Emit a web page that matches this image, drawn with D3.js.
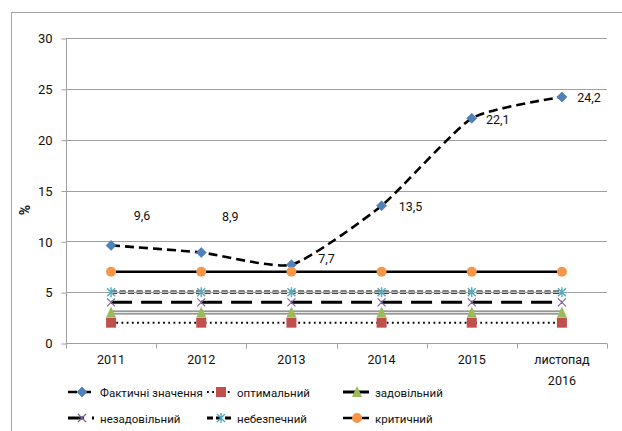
<!DOCTYPE html>
<html><head><meta charset="utf-8">
<script src="https://cdn.jsdelivr.net/npm/d3@7"></script>
<style>
html,body{margin:0;padding:0;background:#fff;}
svg{display:block;}
text{font-family:Roboto,"Noto Sans",sans-serif;fill:#111;}
</style></head>
<body>
<svg id="chart" width="622" height="431"></svg>
<script>
// ---- data ----
const categories = ["2011", "2012", "2013", "2014", "2015", "листопад 2016"];
const actualValues = [9.6, 8.9, 7.7, 13.5, 22.1, 24.2];
const optimalValues = [2, 2, 2, 2, 2, 2];
const satisfactoryValues = [3, 3, 3, 3, 3, 3];
const unsatisfactoryValues = [4, 4, 4, 4, 4, 4];
const dangerousValues = [5, 5, 5, 5, 5, 5];
const criticalValues = [7, 7, 7, 7, 7, 7];
const seriesNames = ["Фактичні значення", "оптимальний", "задовільний", "незадовільний", "небезпечний", "критичний"];
const yTicks = [0, 5, 10, 15, 20, 25, 30];
const actualLabels = ["9,6", "8,9", "7,7", "13,5", "22,1", "24,2"];
const yTitle = "%";

// ---- layout / styles ----
const FONT = 'Roboto,"Noto Sans",sans-serif';
const svg = d3.select("#chart");
const M = {left: 66, right: 607, top: 38, bottom: 343};
const x = d3.scaleBand().domain(categories).range([M.left, M.right]).padding(0);
const y = d3.scaleLinear().domain([0, 30]).range([M.bottom, M.top]);
const cx = c => x(c) + x.bandwidth() / 2;

// outer border
svg.append("rect").attr("x", 11.5).attr("y", 12.5).attr("width", 640).attr("height", 440)
  .attr("fill", "none").attr("stroke", "#a6a6a6").attr("stroke-width", 1);

// gridlines
svg.append("g").selectAll("line").data(yTicks.filter(d => d > 0)).join("line")
  .attr("x1", M.left).attr("x2", M.right)
  .attr("y1", d => Math.round(y(d)) + 0.5).attr("y2", d => Math.round(y(d)) + 0.5)
  .attr("stroke", "#a0a0a0").attr("stroke-width", 1);

// y axis
const yAxis = d3.axisLeft(y).tickValues(yTicks).tickSize(5).tickPadding(9).tickFormat(d3.format("d"));
const gy = svg.append("g").attr("transform", `translate(${M.left + 0.5},0.5)`).call(yAxis);
gy.select(".domain").attr("stroke", "#a0a0a0").attr("d", `M0,${M.top}V${M.bottom}`);
gy.selectAll(".tick line").attr("stroke", "#a0a0a0");
gy.selectAll(".tick text").attr("font-size", 13).attr("fill", "#111").style("font-family", FONT);

// x axis
const gx = svg.append("g").attr("transform", `translate(0,${M.bottom + 0.5})`);
gx.append("line").attr("x1", M.left).attr("x2", M.right).attr("stroke", "#a0a0a0");
const bounds = categories.map(c => x(c)).concat([M.right]);
gx.selectAll("line.tk").data(bounds).join("line").attr("class", "tk")
  .attr("x1", d => Math.round(d) + 0.5).attr("x2", d => Math.round(d) + 0.5)
  .attr("y1", 0).attr("y2", 5).attr("stroke", "#a0a0a0");
gx.selectAll("text.lb").data(categories).join("text").attr("class", "lb")
  .attr("text-anchor", "middle").attr("font-size", 12.5)
  .each(function(c) {
    const parts = c.split(" ");
    const t = d3.select(this);
    parts.forEach((p, i) => {
      t.append("tspan").attr("x", cx(c)).attr("y", 20 + i * 21).text(p);
    });
  });

// y title
svg.append("text").attr("transform", "translate(30,210) rotate(-90)")
  .attr("text-anchor", "middle").attr("font-size", 14).attr("font-weight", "bold").text(yTitle);

// ---- series ----
const straight = d3.line().x((d, i) => cx(categories[i])).y(d => y(d));
const smooth = d3.line().x((d, i) => cx(categories[i])).y(d => y(d)).curve(d3.curveCardinal.tension(0.45));

const markerFns = {
  diamond: (g, s) => g.append("path").attr("d", `M0,${-s}L${s},0L0,${s}L${-s},0Z`).attr("fill", "#4f81bd").attr("stroke", "#3f6ea8").attr("stroke-width", 0.6),
  square: (g, s) => g.append("rect").attr("x", -s).attr("y", -s).attr("width", 2 * s).attr("height", 2 * s).attr("fill", "#c0504d"),
  triangle: (g, s) => g.append("path").attr("d", `M0,${-s - 1}L${s},${s}L${-s},${s}Z`).attr("fill", "#9bbb59"),
  cross: (g, s) => g.append("path").attr("d", `M${-s},${-s}L${s},${s}M${-s},${s}L${s},${-s}`).attr("stroke", "#8064a2").attr("stroke-width", 1.2).attr("fill", "none"),
  star: (g, s) => g.append("path").attr("d", `M${-s},${-s}L${s},${s}M${-s},${s}L${s},${-s}M0,${-s - 1}V${s + 1}`).attr("stroke", "#4bacc6").attr("stroke-width", 1.4).attr("fill", "none"),
  circle: (g, s) => g.append("circle").attr("r", s).attr("fill", "#f79646")
};

const seriesDefs = [
  {name: seriesNames[0], values: actualValues, smooth: true, marker: "diamond", ms: 5,
   strokes: [{color: "#000", width: 2.6, dash: "9,5"}]},
  {name: seriesNames[1], values: optimalValues, marker: "square", ms: 5,
   strokes: [{color: "#000", width: 2, dash: "1.8,3.4"}]},
  {name: seriesNames[2], values: satisfactoryValues, marker: "triangle", ms: 5,
   strokes: [{color: "#7a7a7a", width: 4}, {color: "#eaeaea", width: 1.4}],
   legendStrokes: [{color: "#000", width: 3}]},
  {name: seriesNames[3], values: unsatisfactoryValues, marker: "cross", ms: 4,
   strokes: [{color: "#000", width: 3, dash: "21,9"}],
   legendStrokes: [{color: "#000", width: 3, dash: "16,8,2,40"}]},
  {name: seriesNames[4], values: dangerousValues, marker: "star", ms: 4,
   strokes: [{color: "#000", width: 3.4, dash: "6,2.5"}, {color: "#fff", width: 1.2, dash: "6,2.5"}],
   legendStrokes: [{color: "#000", width: 3, dash: "6,3"}]},
  {name: seriesNames[5], values: criticalValues, marker: "circle", ms: 5,
   strokes: [{color: "#000", width: 2.5}]}
];

const plot = svg.append("g");
seriesDefs.forEach(s => {
  const g = plot.append("g");
  const gen = s.smooth ? smooth : straight;
  s.strokes.forEach(st => {
    g.append("path").attr("d", gen(s.values)).attr("fill", "none")
      .attr("stroke", st.color).attr("stroke-width", st.width)
      .attr("stroke-dasharray", st.dash || null);
  });
  s.values.forEach((v, i) => {
    const mg = g.append("g").attr("transform", `translate(${cx(categories[i])},${y(v)})`);
    markerFns[s.marker](mg, s.ms);
  });
});

// data labels for actual values
const labelDx = [31, 29, 35, 29, 26, 27];
const labelDy = [-25, -32, -2, 5, 6, 5];
svg.append("g").selectAll("text").data(actualValues).join("text")
  .attr("x", (d, i) => cx(categories[i]) + labelDx[i])
  .attr("y", (d, i) => y(d) + labelDy[i])
  .attr("text-anchor", "middle").attr("font-size", 12.5)
  .text((d, i) => actualLabels[i]);

// legend
const legCols = [68, 207, 343];
const legRows = [392, 418];
const leg = svg.append("g");
seriesDefs.forEach((s, i) => {
  const lx = legCols[i % 3], ly = legRows[Math.floor(i / 3)];
  const g = leg.append("g").attr("transform", `translate(${lx},${ly})`);
  (s.legendStrokes || s.strokes).forEach(st => {
    g.append("path").attr("d", i === 3 ? "M0,0H30" : "M0,0H26").attr("fill", "none")
      .attr("stroke", st.color).attr("stroke-width", st.width)
      .attr("stroke-dasharray", st.dash || null);
  });
  const mg = g.append("g").attr("transform", "translate(14,0)");
  markerFns[s.marker](mg, s.ms);
  g.append("text").attr("x", i % 3 === 1 ? 30 : 32).attr("y", 4.5).attr("font-size", 11.5).text(s.name);
});
</script>
</body></html>
